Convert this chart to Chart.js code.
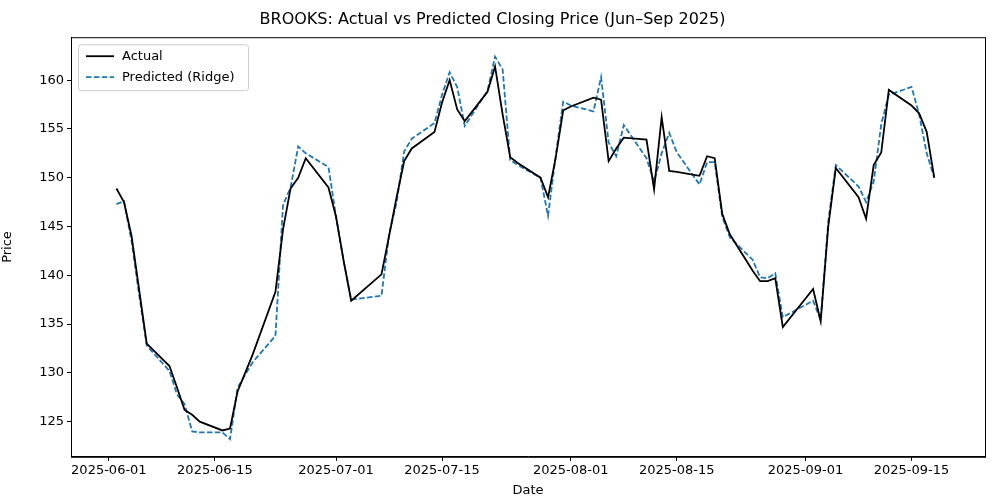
<!DOCTYPE html>
<html>
<head>
<meta charset="utf-8">
<script src="https://cdn.jsdelivr.net/npm/chart.js@4"></script>
<style>body{margin:0;background:#fff}#wrap{width:1000px;height:500px}</style>
</head>
<body>
<div id="wrap"><canvas id="c"></canvas></div>
<script>
// trading dates (yyyy-mm-dd) and values
const dates = ['2025-06-02','2025-06-03','2025-06-04','2025-06-05','2025-06-06','2025-06-09','2025-06-10','2025-06-11','2025-06-12','2025-06-13',
  '2025-06-16','2025-06-17','2025-06-18','2025-06-20','2025-06-23','2025-06-24','2025-06-25','2025-06-26','2025-06-27','2025-06-30',
  '2025-07-01','2025-07-02','2025-07-03','2025-07-07','2025-07-08','2025-07-09','2025-07-10','2025-07-11','2025-07-14','2025-07-15',
  '2025-07-16','2025-07-17','2025-07-18','2025-07-21','2025-07-22','2025-07-23','2025-07-24','2025-07-25','2025-07-28','2025-07-29',
  '2025-07-30','2025-07-31','2025-08-01','2025-08-04','2025-08-05','2025-08-06','2025-08-07','2025-08-08','2025-08-11','2025-08-12',
  '2025-08-13','2025-08-14','2025-08-15','2025-08-18','2025-08-19','2025-08-20','2025-08-21','2025-08-22','2025-08-25','2025-08-26',
  '2025-08-27','2025-08-28','2025-08-29','2025-09-02','2025-09-03','2025-09-04','2025-09-05','2025-09-08','2025-09-09','2025-09-10',
  '2025-09-11','2025-09-12','2025-09-15','2025-09-16','2025-09-17','2025-09-18'];
const actual = [148.9,147.5,144,138.5,133,130.7,128.5,126.2,125.7,125,
  124.1,124.3,128.1,131.9,138.3,144.7,148.9,150,152,149,
  146,141.5,137.4,140.1,144,148,151.7,153,154.7,157.7,
  160,157,155.8,158.8,161.4,156.5,152.1,151.5,150,148,
  152,156.9,157.3,158.2,158,151.7,153,154.1,153.9,148.8,
  156.2,150.7,150.6,150.2,152.2,152,146.3,144.2,140.5,139.4,
  139.4,139.7,134.7,138.6,135.3,145,151,148,145.8,151.3,
  152.6,159,157.4,156.6,154.7,150];
const predicted = [147.3,147.6,143.5,138,132.8,130.2,127.8,126.8,124,123.9,
  123.9,123.2,128.5,131.1,133.8,147.2,149,153.2,152.5,151.1,
  146,141.5,137.5,137.9,144.2,147.5,152.7,154,155.6,158.5,
  160.8,159.3,155.3,158.9,162.4,161.1,151.8,151.3,150,146.1,
  152.2,157.8,157.4,156.8,160.3,153.6,152.2,155.4,152,149.6,
  152.5,154.6,152.6,149.3,151.6,151.6,146,143.9,141.6,139.8,
  139.7,140.2,135.7,137.4,135.4,145.5,151.3,149.1,147.5,149.6,
  155.5,158.5,159.3,156.5,152.5,150];
const tickDates = ['2025-06-01','2025-06-15','2025-07-01','2025-07-15','2025-08-01','2025-08-15','2025-09-01','2025-09-15'];
const yTicks = [125,130,135,140,145,150,155,160];

const day0 = Date.UTC(2025,5,1);
const toDay = s => (Date.parse(s + 'T00:00:00Z') - day0) / 86400000;
const xs = dates.map(toDay);
const tickDays = tickDates.map(toDay);

const font = {family: 'DejaVu Sans', size: 13};

const legendBox = {
  id: 'legendBox',
  afterDraw(chart) {
    const c = chart.ctx, a = chart.chartArea;
    const x = a.left + 7, y = a.top + 7, w = 170, h = 46;
    c.save();
    c.fillStyle = 'rgba(255,255,255,0.8)';
    c.strokeStyle = '#cccccc';
    c.lineWidth = 1;
    c.beginPath(); c.roundRect(x + 0.5, y + 0.5, w, h, 3); c.fill(); c.stroke();
    c.font = '13px "DejaVu Sans"';
    c.textBaseline = 'middle';
    c.fillStyle = '#000';
    [['Actual', '#000000', []], ['Predicted (Ridge)', '#1f77b4', [5.5, 2.4]]].forEach((it, i) => {
      const yy = y + 12 + i * 21;
      c.strokeStyle = it[1]; c.lineWidth = 1.8; c.setLineDash(it[2]);
      c.beginPath(); c.moveTo(x + 8, yy); c.lineTo(x + 36, yy); c.stroke();
      c.setLineDash([]);
      c.fillText(it[0], x + 44, yy);
    });
    c.restore();
  }
};

const axisGrid = {display: true, drawOnChartArea: false, drawTicks: true, tickLength: 4, tickColor: '#000', lineWidth: 1};

new Chart(document.getElementById('c'), {
  type: 'line',
  data: {
    datasets: [
      {label: 'Actual', data: xs.map((x, i) => ({x, y: actual[i]})), borderColor: '#000000', borderWidth: 1.8, pointRadius: 0, tension: 0},
      {label: 'Predicted (Ridge)', data: xs.map((x, i) => ({x, y: predicted[i]})), borderColor: '#1f77b4', borderWidth: 1.8, borderDash: [5.5, 2.4], pointRadius: 0, tension: 0}
    ]
  },
  options: {
    responsive: true,
    maintainAspectRatio: false,
    animation: false,
    layout: {padding: {right: 15, top: 0, bottom: 2}},
    plugins: {
      legend: {display: false},
      tooltip: {enabled: false},
      title: {display: true, text: 'BROOKS: Actual vs Predicted Closing Price (Jun–Sep 2025)', color: '#000', font: {family: 'DejaVu Sans', size: 16, weight: 'normal'}, padding: {top: 10, bottom: 8}}
    },
    scales: {
      x: {
        type: 'linear', min: -5.0, max: 115.7,
        afterBuildTicks: ax => { ax.ticks = tickDays.map(v => ({value: v})); },
        ticks: {color: '#000', font, maxRotation: 0, autoSkip: false, padding: 2, callback: v => tickDates[tickDays.indexOf(v)]},
        grid: axisGrid,
        border: {color: '#000', width: 1},
        title: {display: true, text: 'Date', color: '#000', font, padding: {top: 2, bottom: 0}}
      },
      y: {
        min: 121.4, max: 164.4,
        afterBuildTicks: ax => { ax.ticks = yTicks.map(v => ({value: v})); },
        afterFit: ax => { ax.width = 71; },
        ticks: {color: '#000', font, padding: 3},
        grid: axisGrid,
        border: {color: '#000', width: 1},
        title: {display: true, text: 'Price', color: '#000', font, padding: {top: 0, bottom: 6}}
      }
    }
  },
  plugins: [legendBox, {
    id: 'frame',
    afterDraw(chart) {
      const c = chart.ctx, a = chart.chartArea;
      c.save(); c.strokeStyle = '#000'; c.lineWidth = 1;
      c.strokeRect(a.left + 0.5, a.top + 0.5, a.right - a.left, a.bottom - a.top);
      c.restore();
    }
  }]
});
</script>
</body>
</html>
